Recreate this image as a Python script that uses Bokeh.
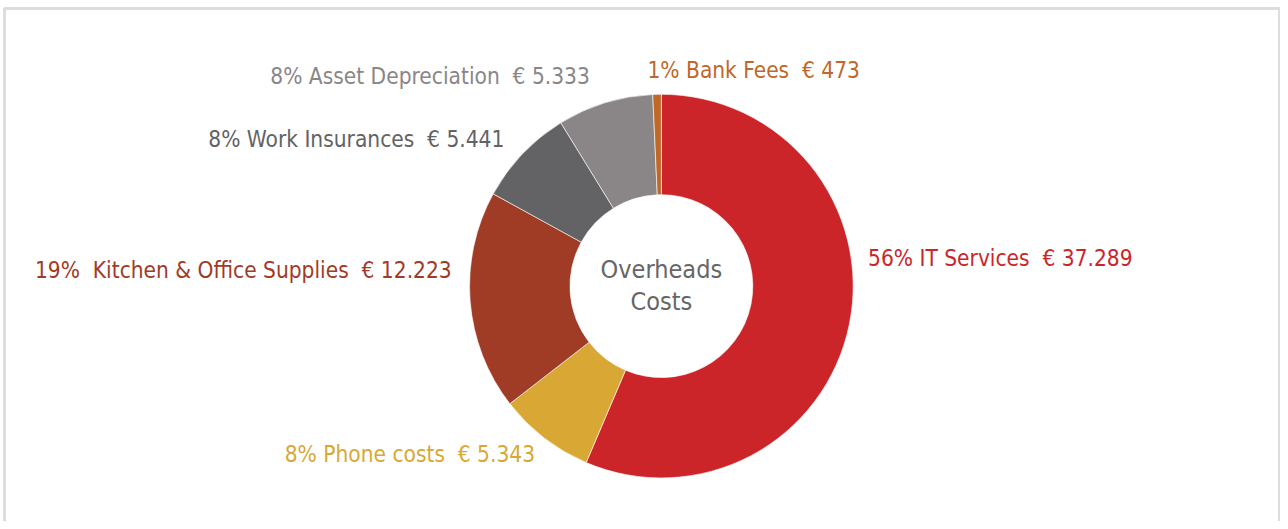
import numpy as np
from bokeh.plotting import figure
from bokeh.models import Range1d, ColumnDataSource
from bokeh.core.properties import value
from bokeh.embed import file_html
from bokeh.resources import INLINE

# ---- data ----
categories = ["IT Services", "Phone costs", "Kitchen & Office Supplies",
              "Work Insurances", "Asset Depreciation", "Bank Fees"]
amounts = [37289, 5343, 12223, 5441, 5333, 473]
amount_labels = ["37.289", "5.343", "12.223", "5.441", "5.333", "473"]
pct_labels = ["56%", "8%", "19%\u00a0", "8%", "8%", "1%"]
colors = ["#CC2529", "#D9A834", "#A03B26", "#636264", "#8A8688", "#C0672A"]
center_title = "Overheads\nCosts"

# ---- layout ----
W, H = 1280, 521
RW, RH = 1288, 529
FONT = "'DejaVu Sans Condensed', 'Roboto Condensed', 'Liberation Sans Narrow', Roboto, sans-serif"

def py(y):
    return RH - y

cx, cy = 665, py(290)
r_out, r_in = 193, 92

# label anchors (reference pixels) and alignment
label_pos = [(873, 261, "left"), (286, 460, "left"), (454, 274, "right"),
             (507, 141, "right"), (593, 77, "right"), (651, 71, "left")]

p = figure(width=W, height=H, output_backend="svg", toolbar_location=None,
           x_range=Range1d(0, RW), y_range=Range1d(0, RH),
           min_border=0, tools="")
p.axis.visible = False
p.grid.visible = False
p.outline_line_color = None
p.background_fill_color = "white"
p.border_fill_color = "white"

# frame
p.quad(left=[4], right=[1287], top=[py(8)], bottom=[-10],
       fill_color=None, line_color="#dddddd", line_width=3)

vals = np.array(amounts, dtype=float)
frac = vals / vals.sum()
cum = np.concatenate([[0], np.cumsum(frac)])
start = np.pi / 2 - cum[:-1] * 2 * np.pi
end = np.pi / 2 - cum[1:] * 2 * np.pi

src = ColumnDataSource(dict(x=[cx] * len(vals), y=[cy] * len(vals),
                            start=start, end=end, color=colors))
p.annular_wedge(x="x", y="y", inner_radius=r_in, outer_radius=r_out,
                start_angle="start", end_angle="end", direction="clock",
                fill_color="color", line_color="white", line_width=0.6,
                source=src)

for i, cat in enumerate(categories):
    lx, ly, align = label_pos[i]
    txt = f"{pct_labels[i]} {cat} \u00a0€ {amount_labels[i]}"
    p.text(x=[lx], y=[py(ly)], text=[txt], text_align=align,
           text_baseline="middle", text_color=colors[i],
           text_font=value(FONT), text_font_size="22.5px")

lines = center_title.split("\n")
for j, ln in enumerate(lines):
    p.text(x=[cx], y=[py(273 + 33 * j)], text=[ln], text_align="center",
           text_baseline="middle", text_color="#666666",
           text_font=value(FONT), text_font_size="25px")

open("out.html", "w").write(file_html(p, INLINE))
